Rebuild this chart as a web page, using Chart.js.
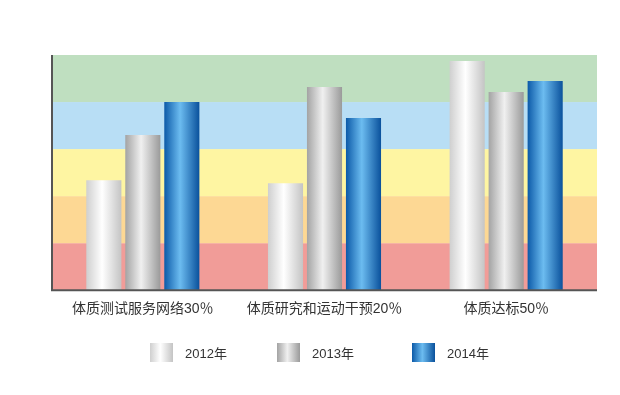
<!DOCTYPE html>
<html>
<head>
<meta charset="utf-8">
<script src="https://cdn.jsdelivr.net/npm/chart.js@4.4.1/dist/chart.umd.min.js"></script>
<style>
  body { margin: 0; background: #fff; }
  #wrap { position: relative; width: 620px; height: 395px; }
  #legend { position: absolute; left: 0; top: 342px; width: 620px; height: 22px;
            font-family: "Liberation Sans", "Noto Sans CJK SC", sans-serif; font-size: 13px; color: #333; }
  .item { position: absolute; top: 0; display: flex; align-items: center; height: 20px; }
  .box { width: 23px; height: 19px; margin-right: 12px; }
</style>
</head>
<body>
<div id="wrap">
  <canvas id="myChart" width="620" height="395"></canvas>
  <div id="legend"></div>
</div>
<script>
const categories = ['体质测试服务网络30％', '体质研究和运动干预20％', '体质达标50％'];
const seriesNames = ['2012年', '2013年', '2014年'];
const values2012 = [46.8, 45.5, 97.4];
const values2013 = [66.0, 86.4, 84.3];
const values2014 = [80.0, 73.2, 88.9];
const bandBreaks = [0, 20, 40, 60, 80, 100];
const bandColors = ['#f19c98', '#fdd894', '#fef5a2', '#b8def5', '#bfdfc0'];

// left / mid / right stops of the cylinder gradients
const cylinderStops = [
    ['#cfcfcf', '#ffffff', '#c4c4c4'],
    ['#a3a3a3', '#f0f0f0', '#9a9a9a'],
    ['#0c5aa8', '#6cbcf0', '#0a519c']
];

document.addEventListener("DOMContentLoaded", () => {
    const ctx = document.getElementById('myChart').getContext('2d');

    const bandsPlugin = {
        id: 'bands',
        beforeDatasetsDraw(chart) {
            const { ctx, chartArea, scales } = chart;
            ctx.save();
            for (let i = 0; i < bandColors.length; i++) {
                const yTop = scales.y.getPixelForValue(bandBreaks[i + 1]);
                const yBot = scales.y.getPixelForValue(bandBreaks[i]);
                ctx.fillStyle = bandColors[i];
                ctx.fillRect(chartArea.left, yTop, chartArea.right - chartArea.left, yBot - yTop);
            }
            ctx.restore();
            // cylinder shading per bar (options are not shared since colour is scriptable)
            chart.data.datasets.forEach((ds, di) => {
                const stops = cylinderStops[di];
                chart.getDatasetMeta(di).data.forEach(el => {
                    const half = el.width / 2;
                    const g = ctx.createLinearGradient(el.x - half, 0, el.x + half, 0);
                    g.addColorStop(0, stops[0]);
                    g.addColorStop(0.45, stops[1]);
                    g.addColorStop(1, stops[2]);
                    el.options = Object.assign({}, el.options, { backgroundColor: g });
                });
            });
        },
        afterDatasetsDraw(chart) {
            const { ctx, chartArea } = chart;
            ctx.save();
            ctx.strokeStyle = '#555';
            ctx.lineWidth = 2;
            ctx.beginPath();
            ctx.moveTo(chartArea.left, chartArea.top);
            ctx.lineTo(chartArea.left, chartArea.bottom);
            ctx.lineTo(chartArea.right, chartArea.bottom);
            ctx.stroke();
            ctx.restore();
        }
    };

    const allValues = [values2012, values2013, values2014];

    new Chart(ctx, {
        type: 'bar',
        data: {
            labels: categories,
            datasets: allValues.map((vals, i) => ({
                label: seriesNames[i],
                data: vals,
                backgroundColor: () => cylinderStops[i][1],
                borderWidth: 0,
                barPercentage: 0.9,
                categoryPercentage: 0.644
            }))
        },
        options: {
            responsive: false,
            animation: false,
            layout: { padding: { left: 52, right: 23, top: 55, bottom: 74 } },
            plugins: { legend: { display: false }, tooltip: { enabled: false } },
            scales: {
                x: {
                    grid: { display: false },
                    border: { display: false },
                    ticks: {
                        color: '#333',
                        padding: 3,
                        maxRotation: 0,
                        font: { size: 14, family: '"Liberation Sans", "Noto Sans CJK SC", sans-serif' }
                    }
                },
                y: {
                    display: false,
                    min: 0,
                    max: 100
                }
            }
        },
        plugins: [bandsPlugin]
    });

    const legend = document.getElementById('legend');
    const legendX = [150, 277, 412];
    seriesNames.forEach((name, i) => {
        const s = cylinderStops[i];
        const item = document.createElement('div');
        item.className = 'item';
        item.style.left = legendX[i] + 'px';
        item.innerHTML = '<div class="box" style="background:linear-gradient(to right,' + s[0] + ',' + s[1] + ' 45%,' + s[2] + ')"></div><span>' + name + '</span>';
        legend.appendChild(item);
    });
});
</script>
</body>
</html>
